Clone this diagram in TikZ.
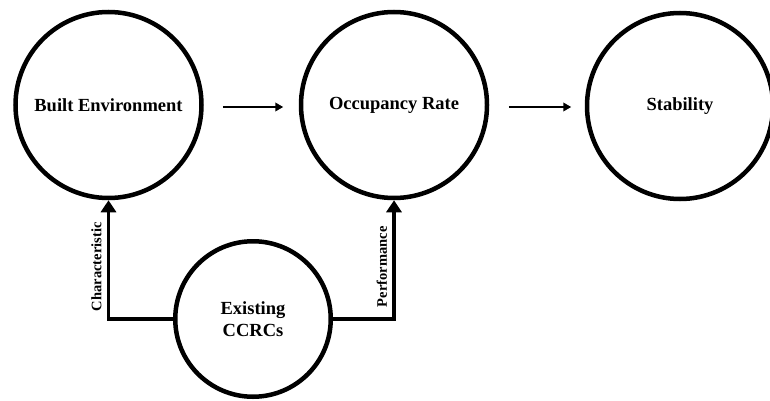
\documentclass[tikz,border=0pt]{standalone}
\usepackage{fontspec}
\setmainfont{Liberation Serif}
\usetikzlibrary{arrows.meta}
\begin{document}
\begin{tikzpicture}[x=1pt,y=1pt,
  bubble/.style={circle, draw=black, line width=4.5pt, minimum size=186pt,
    inner sep=0pt, align=center, font=\fontsize{18.5}{22}\selectfont\bfseries},
  small bubble/.style={bubble, minimum size=155.5pt},
  flow/.style={line width=2.7pt, -{Triangle[width=8.5pt,length=8pt]}},
  conn/.style={line width=3.3pt, -{Triangle[width=15pt,length=12pt]}},
  lab/.style={rotate=90, anchor=south, inner sep=0pt, inner ysep=7pt, outer sep=0pt,
    font=\fontsize{14.5}{17}\selectfont\bfseries}]
  \useasboundingbox (0,0) rectangle (770,400);
  \clip (0,0) rectangle (770,400);

  % main chain
  \node[bubble] (BE) at (108.5,295) {Built Environment};
  \node[bubble] (OR) at (394,295) {Occupancy Rate};
  \node[bubble] (ST) at (680,294) {Stability};
  \node[small bubble] (EC) at (253,81) {Existing\\CCRCs};

  \draw[flow, shorten <=19pt, shorten >=15.5pt]
    ([yshift=-2pt]BE.east) -- ([yshift=-2pt]OR.west);
  \draw[flow, shorten <=19.5pt, shorten >=13.5pt]
    ([yshift=-2pt]OR.east) -- ([yshift=-1pt]ST.west);

  % feeds from existing CCRCs
  \draw[conn] (EC.west) -| node[lab, pos=0.72] {Characteristic} (BE.south);
  \draw[conn] (EC.east) -| node[lab, pos=0.72] {Performance} (OR.south);
\end{tikzpicture}
\end{document}
